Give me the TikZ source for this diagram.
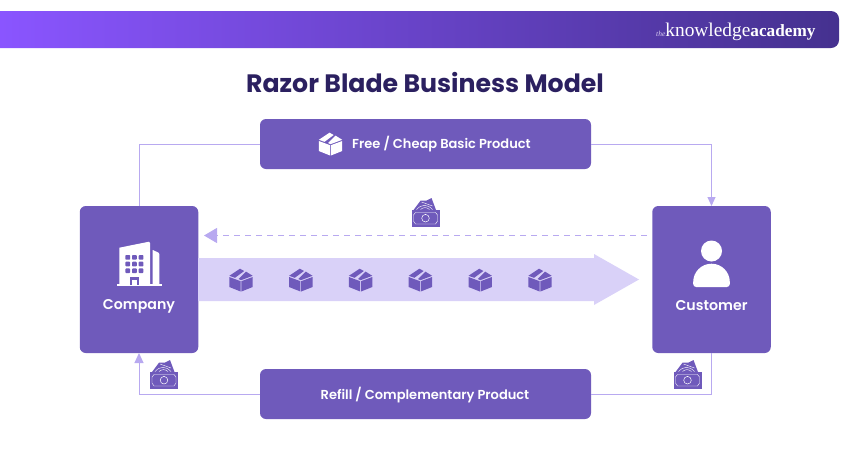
\documentclass[tikz,border=0pt]{standalone}
\usepackage{fontspec}
\setmainfont{Poppins}
\newfontfamily\labelfont{Poppins SemiBold}
\newfontfamily\titlefont{Poppins Bold}
\newfontfamily\logofont{Liberation Serif}
\usetikzlibrary{arrows.meta}
\definecolor{boxfill}{HTML}{6F5ABB}
\definecolor{linecol}{HTML}{B8A9F0}
\definecolor{bandcol}{HTML}{D9D1F8}
\definecolor{titlecol}{HTML}{2B2060}
\definecolor{headleft}{HTML}{8A55FF}
\definecolor{headmid}{HTML}{6A40CC}
\definecolor{headright}{HTML}{45318F}
\tikzset{
    panel/.style={fill=boxfill, rounded corners=6pt, inner sep=0pt, outer sep=0pt},
    sidebox/.style={panel, minimum width=118.5pt, minimum height=147pt},
    widebox/.style={panel, minimum width=331pt, minimum height=50pt},
    boxtext/.style={text=white, anchor=base, inner sep=0pt, font=\labelfont\fontsize{13}{15}\selectfont},
    sidetext/.style={boxtext, font=\labelfont\fontsize{14.2}{16}\selectfont},
    link/.style={draw=linecol, line width=1pt},
    pics/cartonicon/.style={code={
        \fill[#1] (-11.7,-3) -- (-0.4,1.2) -- (-0.4,11.5) -- (-11.7,7) -- cycle;
        \fill[#1] (0.4,1.2) -- (11.7,-3) -- (11.7,7) -- (0.4,11.5) -- cycle;
        \fill[#1] (-11.7,-4.2) -- (-1,-11.3) -- (3.2,-9) -- (-6,-2.2) -- cycle;
        \fill[#1] (-2.4,-1) -- (5,-8.4) -- (11.7,-4.2) -- (0,0.2) -- cycle;
    }},
    pics/cashicon/.style={code={
        \fill[boxfill] (-12,-3) -- (-5,-12.3) -- (1,-12.5) -- (6,-15) -- (10.5,-3) -- cycle;
        \draw[white, line width=0.4pt] (-9,-3.5) .. controls (-4,-9) and (2,-9) .. (7,-3.5)
            (-5,-3.5) .. controls (-2,-6) and (1,-6) .. (4,-3.5) (-4,-11) -- (7,-7);
        \fill[boxfill] (-14,-3) rectangle (14,14);
        \draw[white, line width=0.4pt] (-10,-0.5) -- (10,-0.5) -- (12,2) -- (12,8) -- (10,11)
            -- (-10,11) -- (-12,8) -- (-12,2) -- cycle;
        \draw[white, line width=0.5pt] (0,5.2) circle (3.8);
    }},
    pics/buildingicon/.style={code={
        \fill[white] (-19.7,-16.3) -- (10,-22.3) -- (11,-21) -- (11,21) -- (-19.7,21) -- cycle;
        \fill[white] (13.7,-14) -- (19.3,-11.5) -- (20.3,-10) -- (20.3,21) -- (13.7,21) -- cycle;
        \fill[white] (-22.5,20) rectangle (22.7,22);
        \foreach \r in {0,1,2}
            \foreach \c in {0,1,2}
                \fill[boxfill, rounded corners=0.8pt] (-13.6+6.65*\c,-9+6.7*\r) rectangle +(4.7,4.7);
        \fill[boxfill] (-8.7,13.3) rectangle (0,21);
        \fill[white] (-6.7,15.7) rectangle (-2,22);
    }},
    pics/personicon/.style={code={
        \fill[white] (0,-16) circle (10.5);
        \fill[white] (-18.3,15) arc[start angle=180, end angle=360, radius=18.3]
            [rounded corners=3pt] -- (18.3,20) -- (-18.3,20) [sharp corners] -- cycle;
    }},
}
\begin{document}
\begin{tikzpicture}[x=1pt,y=-1pt]
    \useasboundingbox (0,0) rectangle (850,450);
    % header
    \shade[left color=headleft, middle color=headmid, right color=headright, rounded corners=8pt]
        (0,48) [sharp corners] -- (0,11) [rounded corners=8pt] -- (839,11) -- (839,48) [sharp corners] -- cycle;
    \node[anchor=base west, text=white, inner sep=0pt] (logo) at (656,36)
        {\logofont\fontsize{7.5}{8}\selectfont\itshape\textcolor{white!75!headmid}{the}\fontsize{19.4}{20}\selectfont\upshape knowledge\fontsize{17.2}{20}\selectfont\bfseries academy};
    \node[text=titlecol, font=\titlefont\fontsize{25.2}{30}\selectfont, inner sep=0pt] (title) at (425,83) {Razor Blade Business Model};

    % main boxes
    \node[sidebox] (company) at (139,279.5) {};
    \node[sidebox] (customer) at (711.5,279.5) {};
    \node[widebox] (freebox) at (425.5,144) {};
    \node[widebox] (refillbox) at (425.5,394) {};
    \node[boxtext] (freetext) at (441.5,148) {Free / Cheap Basic Product};
    \node[boxtext] (refilltext) at (425,399) {Refill / Complementary Product};
    \node[sidetext] (companytext) at (139,309) {Company};
    \node[sidetext] (customertext) at (711.5,310) {Customer};

    % links
    \draw[link] (company.north) |- (freebox.west);
    \draw[link,-{Triangle[length=9pt,width=8pt]}] (freebox.east) -| (customer.north);
    \draw[link] (customer.south) |- (refillbox.east);
    \draw[link,-{Triangle[length=10pt,width=9pt]}] (refillbox.west) -| (company.south);
    \coordinate (dashstart) at (647,235.5);
    \coordinate (dashend) at (204,235.5);
    \draw[link,dash pattern=on 6pt off 5pt,-{Triangle[length=13pt,width=15pt]}] (dashstart) -- (dashend);

    % flow of products
    \fill[bandcol] (198,258) -- (594,258) -- (594,254) -- (639,279.5) -- (594,305) -- (594,301) -- (198,301) -- cycle;
    \foreach \i [evaluate = \i as \tx using {241 + \i*59.8}] in {0,...,5}{
        \pic at (\tx,280) {cartonicon={boxfill}};
    };

    % icons
    \pic at (330.5,144) {cartonicon={white}};
    \pic at (139,264) {buildingicon};
    \pic at (711.5,267) {personicon};
    \pic at (425.5,213) {cashicon};
    \pic at (164,375) {cashicon};
    \pic at (687.5,375) {cashicon};
\end{tikzpicture}
\end{document}
